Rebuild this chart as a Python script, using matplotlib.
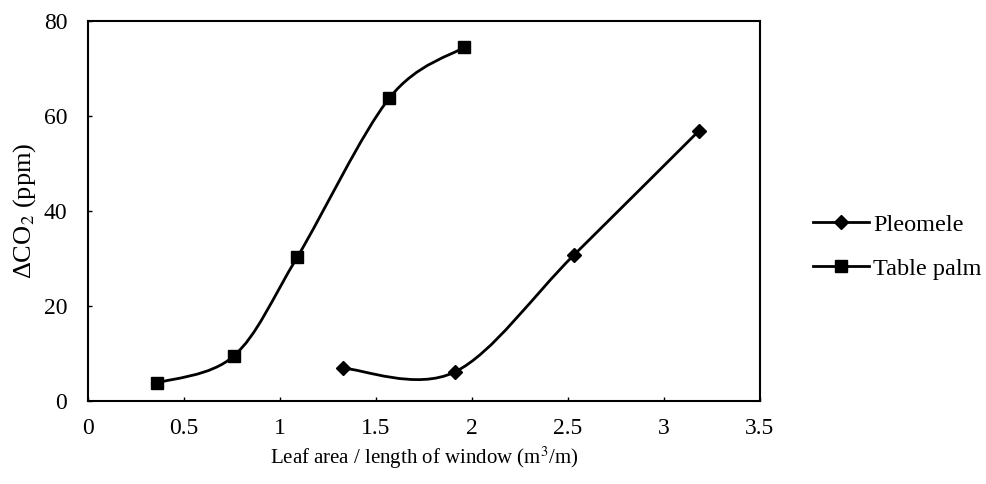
import numpy as np
import matplotlib
matplotlib.use("Agg")
import matplotlib.pyplot as plt
from matplotlib.path import Path
from matplotlib.patches import PathPatch
from matplotlib.lines import Line2D

# Data
pleomele_x = [1.33, 1.91, 2.53, 3.18]
pleomele_y = [6.9, 6.1, 30.7, 56.8]
palm_x = [0.36, 0.76, 1.09, 1.57, 1.96]
palm_y = [3.8, 9.5, 30.3, 63.8, 74.5]
x_ticks = [0, 0.5, 1, 1.5, 2, 2.5, 3, 3.5]
x_tick_labels = ["0", "0.5", "1", "1.5", "2", "2.5", "3", "3.5"]
y_ticks = [0, 20, 40, 60, 80]
series_names = ["Pleomele", "Table palm"]

plt.rcParams['font.family'] = ['Liberation Serif', 'DejaVu Serif']
plt.rcParams['mathtext.fontset'] = 'stix'


def smooth_path(xs, ys):
    pts = np.column_stack([xs, ys]).astype(float)
    n = len(pts)
    verts = [pts[0]]
    codes = [Path.MOVETO]
    for i in range(n - 1):
        p0 = pts[i - 1] if i > 0 else pts[i]
        p1 = pts[i]
        p2 = pts[i + 1]
        p3 = pts[i + 2] if i + 2 < n else pts[i + 1]
        c1 = p1 + (p2 - p0) / 6.0
        c2 = p2 - (p3 - p1) / 6.0
        verts += [c1, c2, p2]
        codes += [Path.CURVE4] * 3
    return Path(verts, codes)


fig = plt.figure(figsize=(9.87, 4.84), dpi=100)
ax = fig.add_axes([0.0892, 0.1715, 0.770 - 0.0892, 0.9566 - 0.1715])

lw = 2.0
for xs, ys in [(pleomele_x, pleomele_y), (palm_x, palm_y)]:
    ax.add_patch(PathPatch(smooth_path(xs, ys), facecolor='none',
                           edgecolor='black', lw=lw, zorder=2))

ax.plot(pleomele_x, pleomele_y, linestyle='none', marker='D', ms=7,
        color='black', zorder=3)
ax.plot(palm_x, palm_y, linestyle='none', marker='s', ms=9,
        color='black', zorder=3)

ax.set_xlim(0, 3.5)
ax.set_ylim(0, 80)
ax.set_xticks(x_ticks)
ax.set_xticklabels(x_tick_labels)
ax.set_yticks(y_ticks)
ax.tick_params(direction='in', length=3, width=1, labelsize=17)
ax.tick_params(axis='x', pad=12)
ax.tick_params(axis='y', pad=15)
for s in ax.spines.values():
    s.set_linewidth(1.5)

ax.set_xlabel("Leaf area / length of window (m$^3$/m)", fontsize=15, labelpad=4)
ax.set_ylabel("ΔCO$_2$ (ppm)", fontsize=19, labelpad=4)

handles = [
    Line2D([], [], color='black', lw=lw, marker='D', ms=7),
    Line2D([], [], color='black', lw=lw, marker='s', ms=9),
]
fig.legend(handles, series_names, loc='center left',
           bbox_to_anchor=(0.824, 0.49), frameon=False, fontsize=17.5,
           handlelength=2.3, handletextpad=0.15, labelspacing=0.9,
           borderpad=0, borderaxespad=0)

fig.savefig("out.png", dpi=100)
